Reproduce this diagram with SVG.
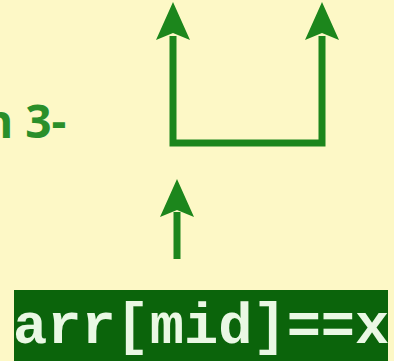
<svg xmlns="http://www.w3.org/2000/svg" width="394" height="361" viewBox="0 0 394 361">
  <style>
    .line { fill: none; stroke: #1c861c; stroke-width: 7; stroke-linejoin: miter; }
    .head { fill: #1c861c; }
    .label { font-family: "Open Sans", "Liberation Sans", sans-serif; font-weight: bold; font-size: 46px; fill: #2a8f2a; }
    .code { font-family: "Liberation Mono", monospace; font-weight: bold; font-size: 57px; fill: #eaf8e4; }
  </style>
  <rect x="0" y="0" width="394" height="361" fill="#fdf8c6"/>
  <g id="label-step">
    <text class="label" x="-17" y="138">n 3-</text>
  </g>
  <g id="connectors">
    <path class="line" d="M173,36 V143 H322 V36"/>
    <polygon class="head" points="173,2 156,40 173,33 190,40"/>
    <polygon class="head" points="322,2 305,40 322,33 339,40"/>
    <path class="line" d="M177,212 V259"/>
    <polygon class="head" points="177,179 160,217 177,210 194,217"/>
  </g>
  <g id="node-condition">
    <rect x="14" y="290" width="374" height="71" fill="#0b640b"/>
    <text class="code" x="13" y="343">arr[mid]==x</text>
  </g>
</svg>
